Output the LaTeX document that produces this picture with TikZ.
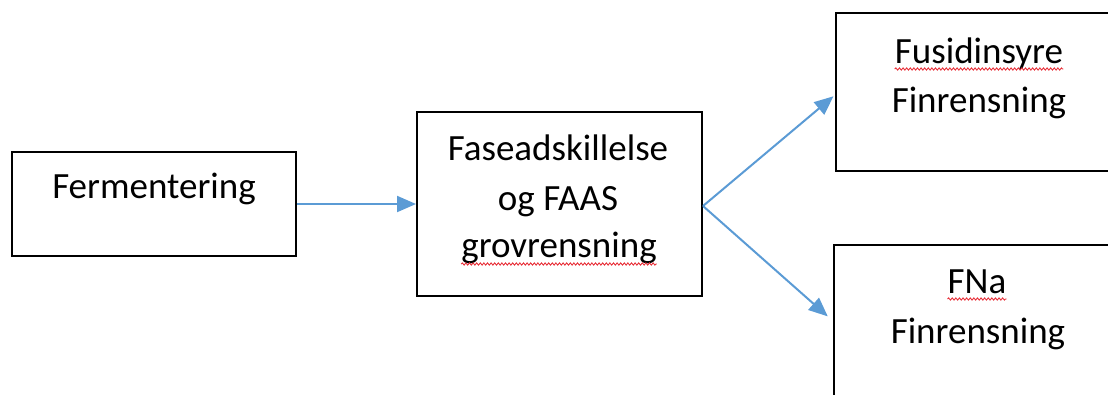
\documentclass[tikz,border=0pt]{standalone}
\usepackage{fontspec}
\setmainfont{Carlito}
\usetikzlibrary{arrows.meta,decorations.pathmorphing}
\definecolor{arrowblue}{HTML}{5B9BD5}
\definecolor{squig}{HTML}{E8313A}
\begin{document}
\begin{tikzpicture}[x=1pt,y=-1pt,
  box/.style={draw=black,line width=2pt,rectangle,inner sep=0pt},
  txt/.style={anchor=base,inner sep=0pt,font=\fontsize{37pt}{49pt}\selectfont},
  conn/.style={draw=arrowblue,line width=2pt,-{Triangle[length=19pt,width=16pt]}},
  spell/.style={draw=squig,line width=0.9pt,decorate,decoration={snake,amplitude=1.1pt,segment length=3.6pt}}]
\useasboundingbox (0,0) rectangle (1108,394);
\begin{scope}
\clip (0,0) rectangle (1108,394);
% boxes
\node[box,minimum width=284pt,minimum height=104pt] (ferm) at (154,204) {};
\node[box,minimum width=285pt,minimum height=184pt] (mid) at (559.5,204) {};
\node[box,minimum width=286pt,minimum height=158pt] (tr) at (979,92) {};
\node[box,minimum width=286pt,minimum height=158pt] (br) at (977,324) {};
% texts
\node[txt] (t1) at (154,198) {Fermentering};
\node[txt] (t2a) at (558,160) {Faseadskillelse};
\node[txt] (t2b) at (558,210) {og FAAS};
\node[txt] (t2c) at (559,257) {grovrensning};
\node[txt] (t3a) at (979,63) {Fusidinsyre};
\node[txt] (t3b) at (979,112) {Finrensning};
\node[txt] (t4a) at (977,293) {FNa};
\node[txt] (t4b) at (978,343) {Finrensning};
% spell-check underlines
\draw[spell] ([yshift=-6pt]t3a.base west) -- ([yshift=-6pt]t3a.base east);
\draw[spell] ([yshift=-6pt]t4a.base west) -- ([yshift=-6pt]t4a.base east);
\draw[spell] ([yshift=-7pt]t2c.base west) -- ([yshift=-7pt]t2c.base east);
% connectors
\draw[conn] (ferm.east) -- (mid.west);
\draw[conn,shorten >=2pt] ([yshift=-2pt]mid.east) -- ([yshift=-3pt]tr.west);
\draw[conn,shorten >=7pt] ([yshift=-2pt]mid.east) -- ([yshift=3pt]br.west);
\end{scope}
\end{tikzpicture}
\end{document}
